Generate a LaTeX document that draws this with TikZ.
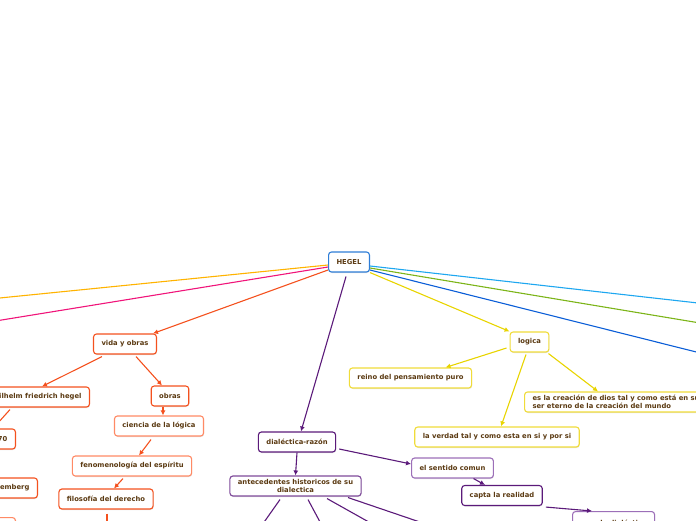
\documentclass[tikz,border=0pt]{standalone}
\usepackage{fontspec}
\setmainfont{DejaVu Sans}
\usetikzlibrary{shadows,arrows.meta}
\definecolor{txtbrown}{HTML}{5B3A12}
\definecolor{hegelblue}{HTML}{2E7DD7}
\definecolor{vidaorange}{HTML}{F4511E}
\definecolor{lightorange}{HTML}{FF8A65}
\definecolor{dialpurple}{HTML}{5B1A7A}
\definecolor{midpurple}{HTML}{7E4A9A}
\definecolor{lightpurple}{HTML}{9C6FB8}
\definecolor{logyellow}{HTML}{E8D400}
\definecolor{boxyellow}{HTML}{F0DC3A}
\definecolor{amberline}{HTML}{FFB300}
\definecolor{pinkline}{HTML}{F0147A}
\definecolor{cyanline}{HTML}{1EA7F0}
\definecolor{greenline}{HTML}{7DB51A}
\definecolor{blueline}{HTML}{0B5ED7}
\begin{document}
\begin{tikzpicture}[
    x=1pt, y=-1pt,
    every node/.style={font=\fontsize{6.8}{8.2}\selectfont\bfseries, text=txtbrown},
    topic/.style={draw, rounded corners=3pt, fill=white, line width=1.1pt,
        minimum height=20pt, inner xsep=8pt, inner ysep=3pt,
        drop shadow={shadow xshift=0.5pt, shadow yshift=-1pt, fill=black!22}},
    link/.style={line width=1.1pt, -{Latex[length=5pt, width=5pt]}}
]
\useasboundingbox (0,0) rectangle (696,520);
\clip (0,0) rectangle (696,520);

% centro
\node[topic, draw=hegelblue] (hegel) at (349,262) {HEGEL};

% vida y obras
\node[topic, draw=vidaorange] (vida) at (125,344) {vida y obras};
\node[topic, draw=vidaorange, anchor=east] (wilhelm) at (90,397) {wilhelm friedrich hegel};
\node[topic, draw=vidaorange, anchor=east] (year) at (16,439) {1770};
\node[topic, draw=vidaorange, anchor=east] (wurtemberg) at (38,488) {wurtemberg};
\node[topic, draw=lightorange, anchor=north east, minimum width=40pt] (lastleft) at (16,517) {};
\node[topic, draw=vidaorange] (obras) at (170,396) {obras};
\node[topic, draw=lightorange] (ciencia) at (159,426) {ciencia de la lógica};
\node[topic, draw=lightorange] (fenomenologia) at (132,466) {fenomenología del espíritu};
\node[topic, draw=vidaorange] (filosofia) at (106,499) {filosofía del derecho};

% dialectica
\node[topic, draw=dialpurple] (dialectica) at (297,442) {dialéctica-razón};
\node[topic, draw=midpurple, align=center] (antecedentes) at (295.5,486) {antecedentes historicos de su\\dialectica};
\node[topic, draw=lightpurple] (sentido) at (452.5,468) {el sentido comun};
\node[topic, draw=dialpurple] (capta) at (502,495.5) {capta la realidad};
\node[topic, draw=lightpurple, anchor=north west, minimum height=24pt] (para) at (572,511) {para la dialéctica};

% logica
\node[topic, draw=boxyellow] (logica) at (529.5,342) {logica};
\node[topic, draw=boxyellow] (reino) at (410.5,378) {reino del pensamiento puro};
\node[topic, draw=boxyellow] (verdad) at (497,437) {la verdad tal y como esta en si y por si};
\node[topic, draw=boxyellow, align=left, anchor=west] (creacion) at (524,402) {es la creación de dios tal y como está en su\\ser eterno de la creación del mundo};

% extremos fuera del cuadro
\coordinate (offamber) at (-60,304);
\coordinate (offpink) at (-60,330);
\coordinate (offcyan) at (760,310);
\coordinate (offgreen) at (760,333);
\coordinate (offblue) at (760,368);
\coordinate (offfilo) at (107,545);
\coordinate (offant1) at (255,535);
\coordinate (offant2) at (327,535);
\coordinate (offant3) at (392,535);
\coordinate (offant4) at (458,535);

\draw[link, amberline] ([yshift=-3pt]hegel.west) -- (offamber);
\draw[link, pinkline] ([yshift=-5pt]hegel.west) -- (offpink);
\draw[link, vidaorange] ([yshift=-8pt]hegel.west) -- ([xshift=-4pt]vida.north east);
\draw[link, dialpurple] ([xshift=-3pt,yshift=-4pt]hegel.south) -- ([xshift=4pt]dialectica.north);
\draw[link, cyanline] ([yshift=-4pt]hegel.east) -- (offcyan);
\draw[link, greenline] ([yshift=-6pt]hegel.east) -- (offgreen);
\draw[link, blueline] ([yshift=-8pt]hegel.east) -- (offblue);
\draw[link, logyellow] (hegel.south east) -- (logica.north west);

\draw[link, vidaorange] ([xshift=-23pt,yshift=-2pt]vida.south) -- ([xshift=-48pt]wilhelm.north east);
\draw[link, vidaorange] ([xshift=11pt,yshift=-2pt]vida.south) -- ([xshift=-8pt]obras.north);
\draw[link, vidaorange] ([xshift=-80pt,yshift=-2pt]wilhelm.south east) -- ([xshift=-23pt]year.north east);
\draw[link, vidaorange] ([xshift=-7pt]obras.south) -- ([xshift=4pt]ciencia.north);
\draw[link, vidaorange] ([xshift=-8pt,yshift=-3pt]ciencia.south) -- ([xshift=7pt]fenomenologia.north);
\draw[link, vidaorange] ([xshift=-9pt,yshift=-2pt]fenomenologia.south) -- ([xshift=8pt]filosofia.north);
\draw[link, vidaorange] ([xshift=1pt,yshift=-4pt]filosofia.south) -- (offfilo);

\draw[link, logyellow] ([xshift=-3pt,yshift=-6pt]logica.west) -- ([xshift=35pt]reino.north);
\draw[link, logyellow] ([xshift=-3.5pt,yshift=-2pt]logica.south) -- ([xshift=4pt]verdad.north);
\draw[link, logyellow] ([xshift=-1pt,yshift=-1pt]logica.south east) -- ([xshift=74pt]creacion.north west);

\draw[link, dialpurple] (dialectica.south) -- (antecedentes.north);
\draw[link, dialpurple] ([xshift=3pt,yshift=-7pt]dialectica.east) -- ([yshift=4pt]sentido.west);
\draw[link, dialpurple] ([xshift=21pt]sentido.south) -- ([xshift=-17pt]capta.north);
\draw[link, dialpurple] ([xshift=3pt,yshift=-1pt]capta.south east) -- ([xshift=20pt]para.north west);
\draw[link, dialpurple] ([xshift=-15.5pt,yshift=-3pt]antecedentes.south) -- (offant1);
\draw[link, dialpurple] ([xshift=12.5pt,yshift=-3pt]antecedentes.south) -- (offant2);
\draw[link, dialpurple] ([xshift=31.5pt,yshift=-2pt]antecedentes.south) -- (offant3);
\draw[link, dialpurple] ([xshift=52.5pt,yshift=-1pt]antecedentes.south) -- (offant4);
\end{tikzpicture}
\end{document}
